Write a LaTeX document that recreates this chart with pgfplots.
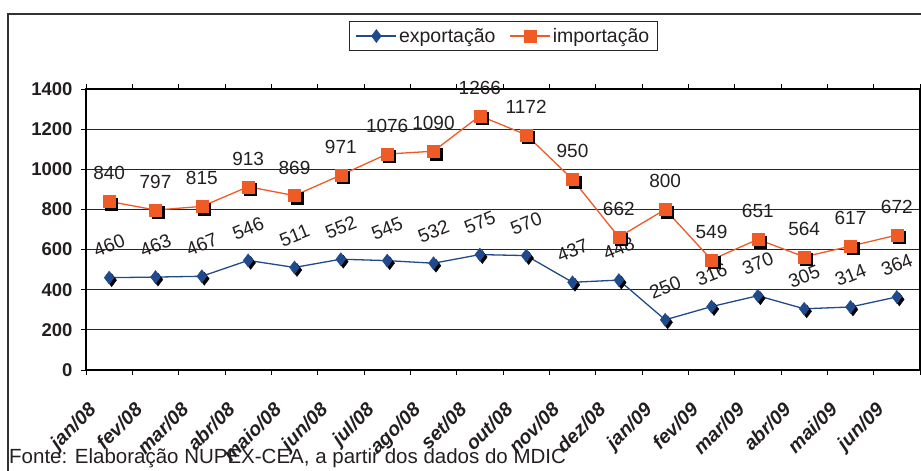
\documentclass[border=0pt]{standalone}
\usepackage{pgfplots}
\pgfplotsset{compat=1.18}
\usepackage{pgfplotstable}
\usepackage{fontspec}
\setmainfont{Liberation Sans}
\definecolor{expblue}{RGB}{31,75,140}
\definecolor{imporange}{RGB}{240,90,36}
\definecolor{txt}{RGB}{35,31,32}

\pgfplotstableread{
x exp imp
0 460 840
1 463 797
2 467 815
3 546 913
4 511 869
5 552 971
6 545 1076
7 532 1090
8 575 1266
9 570 1172
10 437 950
11 448 662
12 250 800
13 316 549
14 370 651
15 305 564
16 314 617
17 364 672
}\datatable

\begin{document}
\begin{tikzpicture}
\useasboundingbox (0,0) rectangle (921pt,-471pt);
\clip (0,0) rectangle (921pt,-471pt);
\draw[black!80, line width=2pt] (8pt,-14pt) rectangle (960pt,-500pt);
\begin{axis}[
 scale only axis, width=834pt, height=281pt,
 at={(86pt,-370pt)}, anchor=south west,
 xmin=-0.5, xmax=17.5, ymin=0, ymax=1400,
 ytick={0,200,...,1400},
 xtick={0,...,17},
 xticklabels={jan/08,fev/08,mar/08,abr/08,maio/08,jun/08,jul/08,ago/08,set/08,out/08,nov/08,dez/08,jan/09,fev/09,mar/09,abr/09,mai/09,jun/09},
 minor xtick={-0.5,0.5,...,17.5},
 ymajorgrids, grid style={black!85, line width=1pt},
 tick align=outside, major tick length=5pt, minor tick length=5pt,
 major x tick style={draw=none},
 minor x tick style={black, line width=1pt},
 y tick style={black, line width=1pt},
 axis line style={black, line width=1.3pt},
 /pgf/number format/assume math mode=true,
 /pgf/number format/1000 sep={},
 yticklabel style={font=\fontsize{18.5}{18.5}\selectfont\bfseries, text=txt, xshift=-5pt},
 xticklabel style={font=\fontsize{19.5}{19.5}\selectfont\bfseries\itshape, text=txt, inner sep=0pt, xshift=-22pt, yshift=-26pt, rotate=45, anchor=north east},
 legend columns=2,
 legend style={at={(0.5006,1.1886)}, anchor=center, draw=black!85, line width=1pt,
   font=\fontsize{19.5}{19.5}\selectfont, text=txt, inner xsep=6pt, inner ysep=5pt,
   /tikz/every even column/.append style={column sep=12pt}},
 legend image code/.code={\draw[mark repeat=2,mark phase=2,#1] plot coordinates {(0pt,0pt) (20pt,0pt) (40pt,0pt)};},
]
\addplot[only marks, mark=diamond*, mark size=6.5pt, black, mark options={xshift=2.5pt,yshift=-2.5pt}, forget plot] table[x=x,y=exp]{\datatable};
\addplot[expblue, line width=1.3pt, mark=diamond*, mark size=6.5pt, mark options={fill=expblue, draw=expblue, line width=0.5pt},
  nodes near coords, point meta=explicit symbolic,
  every node near coord/.append style={font=\fontsize{19}{19}\selectfont, text=txt, anchor=center, yshift=32pt, rotate=22}]
  table[x=x,y=exp,meta=exp]{\datatable};
\addlegendentry{exportação}
\addplot[only marks, mark=square*, mark size=6pt, black, mark options={xshift=2.5pt,yshift=-2.5pt}, forget plot] table[x=x,y=imp]{\datatable};
\addplot[imporange, line width=1.3pt, mark=square*, mark size=6pt, mark options={fill=imporange, draw=imporange, line width=0.5pt},
  nodes near coords, point meta=explicit symbolic,
  every node near coord/.append style={font=\fontsize{19}{19}\selectfont, text=txt, anchor=center, yshift=28pt}]
  table[x=x,y=imp,meta=imp]{\datatable};
\addlegendentry{importação}
\end{axis}
\node[anchor=base west, inner sep=0pt, text=txt, font=\fontsize{20.5}{20.5}\selectfont] at (9pt,-463pt) {Fonte: Elaboração NUPEX-CEA, a partir dos dados do MDIC};
\end{tikzpicture}
\end{document}
